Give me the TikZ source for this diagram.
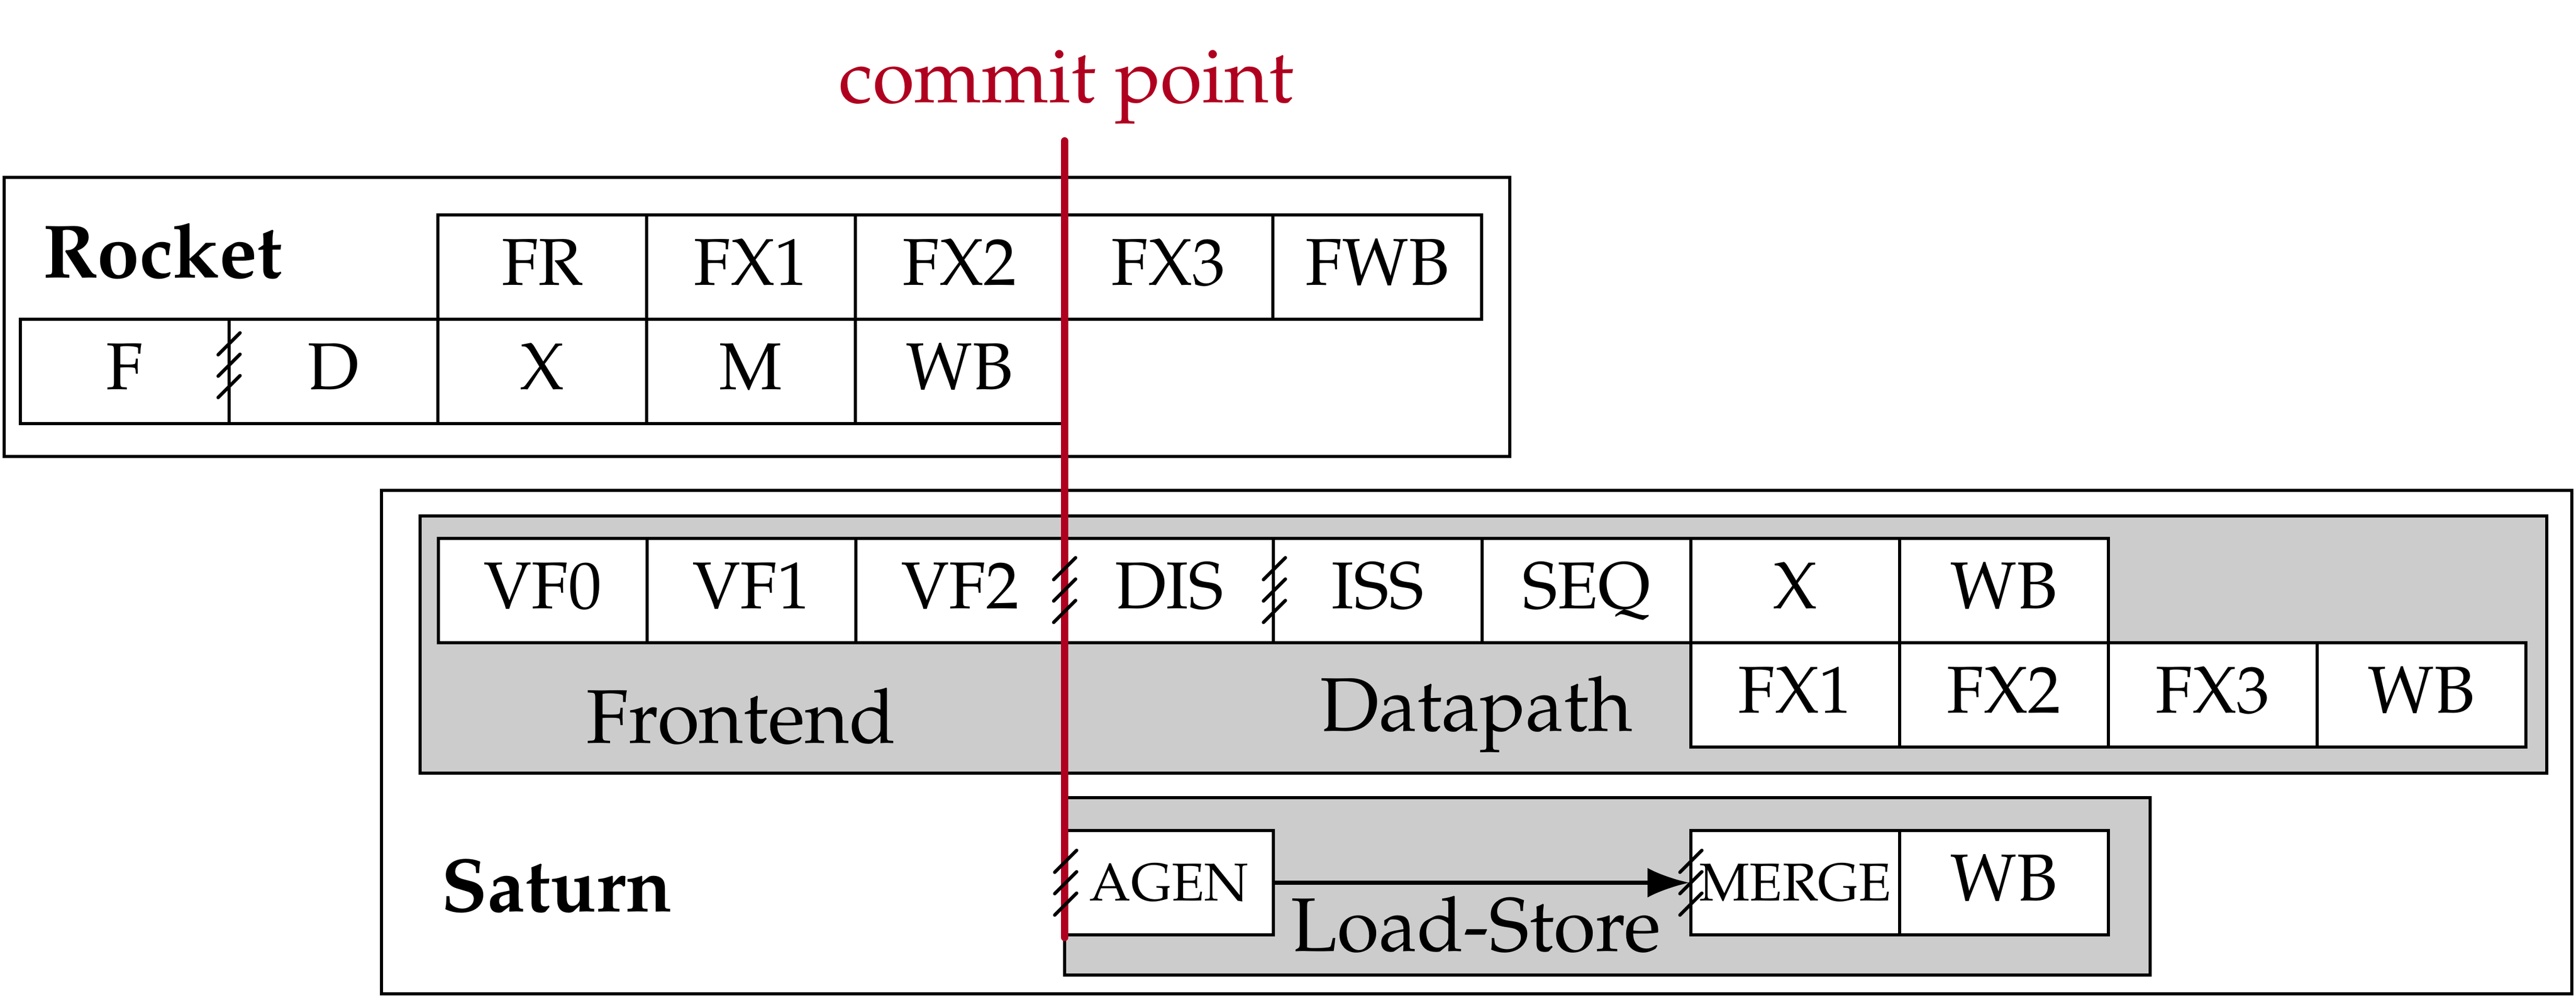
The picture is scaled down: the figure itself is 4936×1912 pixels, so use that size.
\documentclass[tikz,border=0pt]{standalone}
\usepackage[T1]{fontenc}
\renewcommand{\rmdefault}{ppl}
\usetikzlibrary{arrows.meta}
\definecolor{commitred}{RGB}{176,0,32}
\definecolor{boxgray}{RGB}{204,204,204}
\tikzset{
  cell/.style={draw, fill=white, line width=0.65pt, minimum width=40pt, minimum height=20pt,
    inner sep=0pt, text height=0.69em, text depth=0pt, font=\fontsize{12.7}{15}\selectfont},
  smallcell/.style={cell, font=\fontsize{10.2}{12}\selectfont},
  outerbox/.style={draw, line width=0.65pt},
  graybox/.style={draw, fill=boxgray, line width=0.65pt},
  biglabel/.style={inner sep=0pt, font=\fontsize{14.6}{17}\selectfont},
  boxtitle/.style={inner sep=0pt, font=\fontsize{14.5}{17}\selectfont\bfseries},
  commitlabel/.style={inner sep=0pt, text=commitred, font=\fontsize{14.6}{17}\selectfont},
  stageslash/.style={line width=0.65pt, line cap=round},
  commitline/.style={draw=commitred, line width=1.4pt, line cap=round},
  flow/.style={line width=0.8pt, -{Latex[length=8pt,width=5.7pt]}},
}
\newcommand{\slashmark}[1]{%
  \foreach \dd in {-41,0,41} {\draw[stageslash, shift={(#1)}] (-21,\dd+21) -- (21,\dd-21);}}
\begin{document}
\begin{tikzpicture}[x=0.1pt, y=-0.1pt]
\useasboundingbox (0,0) rectangle (4936,1912);

% ---------- Rocket ----------
\draw[outerbox] (8,340) rectangle (2893,875);
\node[boxtitle, anchor=base west] (rockettitle) at (80,532) {Rocket};
\node[cell] (rFR)  at (1039,512) {FR};
\node[cell] (rFX1) at (1439,512) {FX1};
\node[cell] (rFX2) at (1839,512) {FX2};
\node[cell] (rFX3) at (2239,512) {FX3};
\node[cell] (rFWB) at (2639,512) {FWB};
\node[cell] (rF)   at (239,712) {F};
\node[cell] (rD)   at (639,712) {D};
\node[cell] (rX)   at (1039,712) {X};
\node[cell] (rM)   at (1439,712) {M};
\node[cell] (rWB)  at (1839,712) {WB};

% ---------- Saturn ----------
\draw[outerbox] (731,940) rectangle (4928,1905);
\draw[graybox] (805,989) rectangle (4880,1482);
\draw[graybox] (2040,1529) rectangle (4120,1869);
\node[boxtitle, anchor=base west] (saturntitle) at (843,1747) {Saturn};
\node[biglabel, anchor=base] (frontend) at (1420,1424) {Frontend};
\node[biglabel, anchor=base] (datapath) at (2829,1401) {Datapath};
\node[biglabel, anchor=base] (lsu) at (2828,1823) {Load-Store};

\node[cell] (sVF0) at (1040,1132) {VF0};
\node[cell] (sVF1) at (1440,1132) {VF1};
\node[cell] (sVF2) at (1840,1132) {VF2};
\node[cell] (sDIS) at (2240,1132) {DIS};
\node[cell] (sISS) at (2640,1132) {ISS};
\node[cell] (sSEQ) at (3040,1132) {SEQ};
\node[cell] (sX)   at (3440,1132) {X};
\node[cell] (sWB)  at (3840,1132) {WB};
\node[cell] (sFX1) at (3440,1332) {FX1};
\node[cell] (sFX2) at (3840,1332) {FX2};
\node[cell] (sFX3) at (4240,1332) {FX3};
\node[cell] (sFWB) at (4640,1332) {WB};

\node[smallcell] (agen)  at (2240,1692) {AGEN};
\node[smallcell] (merge) at (3440,1692) {MERGE};
\node[cell]      (lWB)   at (3840,1692) {WB};
\draw[flow] (agen) -- (merge);

% ---------- commit point ----------
\coordinate (cptop) at (2040,270);
\coordinate (cpbot) at (2040,1797);
\draw[commitline] (cptop) -- (cpbot);
\node[commitlabel, anchor=base] (cplabel) at (2043,196) {commit point};

% ---------- stage-boundary slashes ----------
\coordinate (sl1) at (439,700);
\coordinate (sl2) at (2040,1131);
\coordinate (sl3) at (2442,1131);
\coordinate (sl4) at (2042,1692);
\coordinate (sl5) at (3240,1692);
\slashmark{sl1}
\slashmark{sl2}
\slashmark{sl3}
\slashmark{sl4}
\slashmark{sl5}
\end{tikzpicture}
\end{document}
